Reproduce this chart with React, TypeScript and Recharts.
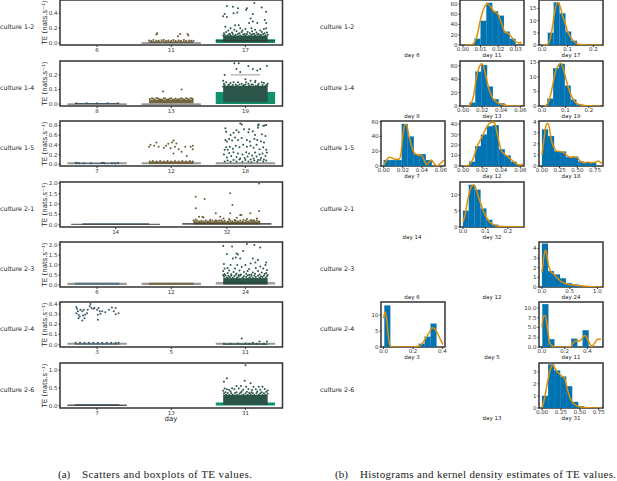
import { ComposedChart, Scatter, Bar, Line, XAxis, YAxis, ReferenceArea, ReferenceLine } from 'recharts'

const BLUE = '#0173b2'
const ORANGE = '#de8f05'
const GREEN = '#10906c'
const FRAME = '#333'
const GREY = '#999'
const DOTS = ['#3b5566', '#6b5a34', '#2a5548']
const BANDS = ['#56707f', '#75653c', '#2a5548']

const cultures = ['culture 1-2', 'culture 1-4', 'culture 1-5', 'culture 2-1', 'culture 2-3', 'culture 2-4', 'culture 2-6']

const days12 = ['6', '11', '17']
const days14 = ['8', '13', '19']
const days15 = ['7', '12', '18']
const days21 = ['14', '32']
const days23 = ['6', '12', '24']
const days24 = ['3', '5', '11']
const days26 = ['7', '13', '31']

// strip points: [jitter, TE]
const d11c12 = [[-.19,.13],[-.2,.115],[.09,.09],[.12,.12],[.22,.12],[.23,.1],[-.3,.035],[-.27,.028],[-.24,.04],[-.2,.03],[-.17,.03],[-.13,.036],[-.1,.04],[-.07,.028],[-.04,.035],[0,.03],[.03,.04],[.06,.028],[.1,.035],[.13,.03],[.17,.04],[.2,.028],[.24,.035],[.27,.03],[.3,.03]]
const d17c12 = [[-.25,.5],[-.17,.49],[-.1,.47],[.01,.45],[.02,.47],[.12,.54],[.22,.48],[-.28,.39],[-.25,.35],[-.16,.4],[-.11,.41],[.1,.39],[.28,.42],[.26,.31],[.28,.27],[-.27,.22],[-.2,.2],[-.14,.24],[-.09,.24],[.05,.27],[.1,.29],[.16,.27],[.28,.2],[0,.19],[-.07,.2],[-.3,.36],[.07,.33],[-.23,.17],[-.15,.18],[-.04,.17],[.08,.2],[.13,.18],[.2,.17],[.25,.19],[-.29,.13],[-.26,.15],[-.21,.12],[-.18,.14],[-.12,.16],[-.08,.13],[-.05,.15],[-.01,.12],[.03,.15],[.06,.13],[.09,.16],[.12,.12],[.15,.14],[.18,.12],[.22,.15],[.26,.13],[.29,.14],
  [-.3,.1],[-.28,.11],[-.25,.095],[-.23,.115],[-.2,.1],[-.17,.12],[-.15,.095],[-.13,.11],[-.1,.12],[-.07,.1],[-.03,.115],[0,.1],[.02,.12],[.05,.095],[.08,.11],[.1,.12],[.13,.1],[.16,.115],[.19,.095],[.21,.11],[.24,.12],[.27,.1],[.3,.11]]
const d8c14 = [[-.28,.006],[-.14,.006],[0,.006],[.14,.006],[.28,.006]]
const d13c14 = [[-.11,.087],[.14,.1],[-.29,.035],[-.26,.04],[-.22,.03],[-.18,.038],[-.14,.032],[-.1,.04],[-.06,.03],[-.02,.036],[.02,.03],[.06,.038],[.1,.032],[.14,.04],[.18,.03],[.22,.036],[.26,.04],[.29,.032],[-.24,.036],[-.2,.042],[-.16,.034],[-.12,.03],[-.08,.038],[-.04,.034],[0,.04],[.04,.032],[.08,.03],[.12,.036],[.16,.034],[.2,.04],[.24,.03],[.28,.038]]
const d19c14 = [[-.15,.28],[-.09,.28],[-.12,.24],[-.07,.22],[.04,.26],[.1,.24],[.16,.23],[.2,.24],[.29,.26],[-.28,.2],[-.3,.16],[0,.17],[.01,.15],[.07,.16],[.135,.16],[-.16,.15],[.22,.15],[-.29,.14],[-.26,.15],[-.23,.13],[-.2,.145],[-.13,.135],[-.1,.15],[-.05,.14],[-.02,.13],[.04,.14],[.1,.135],[.13,.15],[.18,.14],[.25,.145],[.28,.13],[.3,.14],
  [-.3,.12],[-.28,.13],[-.25,.115],[-.22,.135],[-.19,.12],[-.17,.13],[-.14,.115],[-.11,.125],[-.08,.135],[-.06,.115],[-.03,.125],[0,.135],[.02,.115],[.05,.125],[.08,.135],[.11,.115],[.14,.125],[.17,.13],[.2,.115],[.23,.13],[.26,.12],[.29,.125]]
const d7c15 = [[-.29,.025],[-.27,.03],[-.24,.02],[-.18,.02],[-.08,.02],[.06,.025],[.08,.03],[.1,.02],[.2,.025],[.24,.02],[.28,.03]]
const d12c15 = [[-.3,.36],[-.28,.4],[-.23,.38],[-.2,.45],[-.17,.36],[-.1,.34],[-.07,.38],[-.04,.42],[.01,.45],[.03,.49],[.05,.36],[.1,.31],[.14,.26],[.03,.22],[.21,.17],[.26,.36],[.29,.38],[.29,.31],[.19,.36],[-.01,.33],[.07,.43],[-.29,.06],[-.25,.07],[-.2,.06],[-.15,.07],[-.1,.06],[-.05,.07],[0,.06],[.05,.07],[.1,.06],[.15,.07],[.2,.06],[.25,.07],[.29,.06]]
const d18c15 = [[-.27,.74],[-.26,.67],[-.07,.84],[-.05,.82],[.05,.72],[.17,.8],[.17,.75],[.18,.82],[.24,.79],[.26,.8],[.28,.81],[-.2,.6],[-.16,.65],[-.12,.7],[-.09,.66],[-.02,.72],[.04,.66],[.1,.68],[.13,.6],[.22,.62],[.27,.58],[-.27,.5],[-.25,.47],[-.22,.52],[-.18,.49],[-.14,.55],[-.1,.5],[-.05,.54],[.02,.5],[.06,.47],[.12,.52],[.16,.5],[.21,.47],[.25,.45],[-.28,.3],[-.26,.35],[-.24,.3],[-.21,.36],[-.17,.32],[-.13,.38],[-.08,.35],[-.03,.4],[.02,.36],[.07,.38],[.11,.34],[.15,.4],[.19,.31],[.24,.35],[.28,.3],[-.29,.2],[-.25,.14],[-.22,.23],[-.19,.17],[-.16,.25],[-.12,.15],[-.1,.22],[-.07,.12],[-.04,.2],[-.01,.13],[.01,.25],[.03,.16],[.05,.22],[.07,.1],[.09,.18],[.11,.12],[.13,.24],[.15,.16],[.17,.09],[.19,.2],[.21,.13],[.23,.22],[.25,.1],[.27,.17],[.29,.24],[-.28,.06],[-.24,.08],[-.2,.05],[-.16,.09],[-.12,.06],[-.08,.1],[-.04,.05],[0,.09],[.04,.06],[.08,.04],[.12,.08],[.16,.05],[.2,.09],[.24,.06],[.28,.08]]
const d32c21 = [[-.28,1.35],[-.2,1.24],[-.28,.8],[.03,1.52],[.05,.95],[.29,1.99],[.29,.66],[.21,.55],[-.1,.55],[.03,.55],[.12,.47],[.13,.47],[-.25,.38],[-.21,.35],[-.22,.38],[-.06,.38],[-.03,.3],[.09,.34],[.18,.27],[.27,.3],[-.28,.25],[-.15,.24],[-.05,.22],[.02,.27],[.07,.23],[.15,.24],[.24,.22],[-.3,.2],[-.1,.22],[.22,.22],
  [-.29,.16],[-.27,.2],[-.25,.15],[-.23,.19],[-.21,.16],[-.19,.2],[-.17,.15],[-.15,.18],[-.13,.2],[-.11,.15],[-.09,.18],[-.07,.2],[-.04,.16],[-.02,.19],[.01,.15],[.03,.2],[.05,.16],[.08,.19],[.1,.15],[.12,.2],[.14,.16],[.17,.19],[.19,.15],[.21,.2],[.23,.16],[.25,.18],[.27,.2],[.29,.15]]
const d24c23 = [[-.3,1.95],[-.18,1.92],[.02,2.05],[.12,2.0],[.2,1.88],[-.25,1.55],[-.12,1.58],[-.1,1.53],[-.03,1.7],[-.17,1.33],[-.13,1.38],[-.07,1.33],[.1,1.33],[.17,1.25],[.135,1.13],[.28,1.13],[.27,1.0],[-.29,1.05],[-.28,.83],[-.2,1.0],[-.11,1.0],[0,1.0],[.07,1.08],[.2,.92],[-.24,.85],[-.14,.82],[-.05,.9],[.05,.8],[.14,.85],[.24,.82],[.29,.75],[-.3,.7],[-.22,.72],[-.16,.65],[-.08,.72],[-.02,.65],[.03,.7],[.1,.62],[.17,.7],[.22,.62],[.28,.6],[-.28,.55],[-.24,.6],[-.19,.54],[-.12,.58],[-.06,.53],[.01,.56],[.08,.52],[.13,.56],[.19,.53],[.26,.55],[.3,.5],[-.3,.5],[-.09,.5],[.05,.5],
  [-.29,.42],[-.27,.48],[-.25,.38],[-.23,.46],[-.21,.4],[-.19,.47],[-.17,.36],[-.15,.44],[-.13,.5],[-.11,.38],[-.09,.42],[-.07,.48],[-.04,.36],[-.02,.44],[.01,.4],[.03,.48],[.06,.38],[.08,.45],[.1,.36],[.12,.47],[.14,.4],[.17,.46],[.19,.36],[.21,.44],[.23,.4],[.25,.48],[.27,.36],[.29,.44],
  [-.28,.32],[-.24,.35],[-.2,.32],[-.16,.3],[-.12,.33],[-.08,.3],[-.03,.34],[.02,.31],[.05,.35],[.09,.3],[.13,.33],[.16,.31],[.2,.34],[.24,.3],[.28,.33]]
const d3c24 = [[-.28,.37],[-.27,.354],[-.26,.328],[-.25,.295],[-.28,.31],[-.225,.344],[-.2,.328],[-.18,.344],[-.16,.295],[-.2,.238],[-.17,.26],[-.126,.344],[-.1,.377],[-.09,.4],[-.077,.36],[-.036,.36],[0,.344],[.02,.36],[.036,.328],[.01,.295],[.01,.245],[.07,.328],[.11,.32],[.16,.344],[.2,.367],[.25,.36],[.225,.328],[.29,.31],[.25,.3],[.045,.305],[-.05,.354],[-.135,.31],[-.234,.278],[-.19,.288],[-.25,.26],[-.29,.02],[-.23,.018],[-.17,.02],[-.11,.018],[-.05,.02],[.01,.018],[.07,.02],[.13,.018],[.19,.02],[.25,.018],[.29,.02]]
const d11c24 = [[-.05,.06],[-.1,.012],[.1,.02],[.19,.03],[.29,.03],[-.29,.008],[-.2,.008],[0,.012],[.05,.01],[.15,.008],[.25,.01]]
const d31c26 = [[0,1.14],[-.25,.77],[-.29,.67],[-.01,.7],[.07,.63],[-.12,.55],[-.06,.55],[.01,.53],[-.18,.49],[.11,.53],[.18,.53],[.23,.53],[-.28,.48],[-.25,.46],[-.3,.42],[-.22,.44],[-.15,.46],[-.09,.48],[-.03,.45],[.04,.47],[.09,.44],[.14,.46],[.2,.45],[.26,.47],[.3,.43],[-.27,.38],[-.2,.4],[-.12,.38],[-.05,.4],[.02,.39],[.08,.38],[.16,.4],[.22,.38],[.28,.39],
  [-.29,.34],[-.26,.31],[-.24,.36],[-.22,.3],[-.19,.35],[-.17,.31],[-.14,.36],[-.11,.3],[-.08,.34],[-.06,.37],[-.03,.31],[0,.35],[.03,.3],[.05,.36],[.07,.32],[.1,.35],[.12,.3],[.15,.36],[.18,.31],[.2,.35],[.23,.3],[.25,.35],[.27,.31],[.3,.34]]

// boxes: [category, low, high]
const boxes12 = [[2, 0, .05]]
const boxes14 = [[2, 0, .083]]
const boxes15 = [[0, 0, .04], [1, 0, .04], [2, 0, .04]]
const boxes21 = [[1, 0, .08]]
const boxes23 = [[0, 0, .11], [1, 0, .11], [2, 0, .03]]
const boxes24 = [[0, 0, .018], [2, 0, .018]]
const boxes26 = [[0, 0, .03], [2, .005, .09]]

// dense strip cores: [category, low, high]
const core12 = [[1, .002, .025], [2, .006, .1]]
const core14 = [[0, 0, .008], [1, .005, .03], [2, .012, .125]]
const core15 = [[0, .005, .025], [1, .005, .055]]
const core21 = [[0, 0, .07], [1, .01, .16]]
const core23 = [[0, .01, .11], [1, .01, .11], [2, .03, .34]]
const core24 = [[0, 0, .015], [2, 0, .012]]
const core26 = [[0, 0, .045], [2, .02, .31]]

// median lines: [category, TE]
const medians12 = [[1, 0], [2, .03]]
const medians14 = [[0, 0], [1, 0]]
const medians15: number[][] = []
const medians21 = [[0, .02], [1, .04]]
const medians23 = [[2, .1]]
const medians24: number[][] = []
const medians26 = [[0, .01]]

// histograms: bin centres, heights, then the density curve
const h11x = [.0083, .0117, .015, .0183, .0217, .025, .0283]
const h11y = [12, 47, 82, 66, 57, 26, 12]
const k11 = [[.001,0],[.004,0],[.006,3],[.008,18],[.01,50],[.012,72],[.0135,80],[.015,78],[.0175,66],[.02,60],[.022,42],[.024,25],[.026,22],[.028,14],[.03,6],[.032,4],[.0335,5]]
const h17x = [.034, .057, .08, .102, .125]
const h17y = [5, 17.5, 13, 5.5, 1.7]
const k17 = [[0,0],[.02,.2],[.03,2],[.04,7],[.05,14],[.06,17.5],[.07,16],[.08,12],[.09,9],[.1,5.5],[.11,3.5],[.12,2],[.14,.4],[.16,.1],[.2,0],[.23,0]]
const h13x = [.0098, .0159, .0221, .0282, .0343, .0405, .0466]
const h13y = [5, 51, 61, 29, 10, 4, 1]
const k13 = [[.005,0],[.008,3],[.011,15],[.014,42],[.017,58],[.019,63],[.021,61],[.023,50],[.025,38],[.027,26],[.029,18],[.032,10],[.036,5],[.04,3],[.045,1],[.05,0],[.06,.3]]
const h19x = [.035, .06, .085, .11, .134, .159]
const h19y = [2.5, 13, 14.5, 7, 2.2, .6]
const k19 = [[.01,0],[.02,.4],[.03,2],[.04,5],[.05,9],[.06,12.5],[.07,14],[.08,14.7],[.09,13],[.1,10],[.11,7],[.12,4.5],[.13,2.7],[.14,1.5],[.16,.5],[.18,.2],[.2,.1],[.25,0]]
const h7x = [.0032, .0095, .0158, .0221, .0284, .0347, .041, .0473]
const h7y = [8, 8, 8, 57, 40, 16, 16, 8]
const k7 = [[0,1],[.003,8],[.006,12],[.009,11],[.012,9],[.016,9],[.018,16],[.02,40],[.022,56],[.024,56],[.026,44],[.029,28],[.032,18],[.036,15],[.04,14],[.043,6],[.045,2],[.048,6],[.05,8],[.053,3],[.056,0],[.059,3],[.063,8]]
const h12x = [.0094, .0157, .0219, .0282, .0344, .0407, .0469, .0532]
const h12y = [4, 19, 30, 38, 39, 16, 10, 4]
const k12 = [[0,0],[.005,.5],[.008,3],[.011,8],[.014,17],[.017,23],[.02,28],[.023,34],[.026,39],[.029,41.5],[.032,42],[.034,39],[.036,30],[.038,22],[.04,15],[.044,11],[.048,8],[.052,5],[.056,2],[.06,1],[.063,2]]
const h18x = [.043, .128, .213, .298, .383, .468, .553, .638, .723]
const h18y = [3.3, 2.7, 1.35, 1.3, .8, .85, .4, .35, .3]
const k18 = [[0,1],[.03,2.5],[.06,3.7],[.08,3.85],[.1,3.6],[.13,2.4],[.17,1.7],[.2,1.35],[.25,1.3],[.3,1.25],[.35,.95],[.4,.8],[.45,.82],[.5,.75],[.55,.4],[.6,.3],[.65,.35],[.7,.3],[.75,.35],[.8,.45],[.83,.3],[.85,.25]]
const h32x = [.013, .039, .065, .091, .117, .143]
const h32y = [5, 13, 11.5, 5.7, 2.2, .7]
const k32 = [[0,1.5],[.01,4],[.02,8],[.03,11],[.04,12.7],[.05,13],[.06,11.5],[.07,9],[.08,7],[.09,5],[.1,3.5],[.12,1.5],[.14,.6],[.16,.2],[.2,.05],[.27,0]]
const h24x = [.054, .162, .27, .378, .486, .594, .702, .81, .918]
const h24y = [4.5, 1.65, 1.3, .9, .4, .25, .1, .05, .02]
const k24 = [[0,1.5],[.03,3],[.06,3.85],[.09,3.2],[.12,2.2],[.16,1.6],[.2,1.4],[.25,1.1],[.3,.8],[.35,.55],[.4,.4],[.5,.25],[.6,.18],[.7,.12],[.8,.07],[.9,.03],[1,.01],[1.08,0]]
const h3x = [.025, .26, .3, .34]
const h3y = [13, 1, 3.2, 7.3]
const k3 = [[0,9],[.01,11],[.02,9],[.03,4],[.045,.3],[.06,0],[.2,0],[.24,.3],[.27,1.5],[.29,3],[.31,4.5],[.33,6],[.345,5.8],[.37,4],[.39,2],[.405,.8]]
const h11bx = [.03, .083, .285, .385]
const h11by = [11, 2, 2.1, 4.3]
const k11b = [[0,5],[.015,8],[.03,8],[.05,4.5],[.07,1],[.09,.3],[.11,0],[.25,0],[.28,1.2],[.3,1.7],[.33,1.5],[.38,3],[.41,1.5],[.44,.2],[.46,.8],[.49,2],[.52,2]]
const h31x = [.04, .12, .199, .279, .358, .438, .517]
const h31y = [1, 3.6, 3.1, 2.6, 1.8, .5, .15]
const k31 = [[0,.02],[.03,.7],[.06,1.7],[.09,2.7],[.12,3.4],[.14,3.55],[.17,3.3],[.2,3],[.25,2.7],[.3,2.4],[.33,1.7],[.36,1],[.4,.5],[.45,.2],[.5,.1],[.6,.02],[.78,0]]

const rowTop = [0, 61, 121, 182, 242, 302, 363]
const rowH = 45
const colX = [381, 460, 539]
const histW = 64
const tickStyle = { fontSize: 5.5, fill: '#333', fontFamily: 'DejaVu Sans' }
const toXY = (pts: number[][]) => pts.map(p => ({ x: p[0], y: p[1] }))

function dot(color: string) {
  return (p: any) => <circle cx={p.cx} cy={p.cy} r={1} fill={color} />
}

function StripPanel({ row, days, domain, ticks, boxes, core, medians, points, caps, boxColor }: any) {
  const n = days.length
  const T = 2, L = 58, R = 4, B = 14
  const W = 222.5
  return (
    <div style={{ position: 'absolute', left: 59.5 - L, top: rowTop[row] - T }}>
      <ComposedChart width={W + L + R} height={rowH + T + B} margin={{ top: T, right: R, left: 0, bottom: 0 }}>
        <XAxis type="number" dataKey="x" domain={[-0.5, n - 0.5]} ticks={days.map((_: string, i: number) => i)} tickFormatter={(v: number) => days[v]}
          axisLine={false} tick={tickStyle} tickSize={2} tickMargin={1} tickLine={{ stroke: FRAME }} height={B} interval={0} allowDataOverflow />
        <YAxis type="number" dataKey="y" domain={domain} ticks={ticks} tickFormatter={(v: number) => v.toFixed(1)}
          axisLine={false} tick={tickStyle} tickSize={1.5} tickMargin={1} tickLine={{ stroke: FRAME }} width={L} interval={0} allowDataOverflow
          label={{ value: 'TE (nats.s⁻¹)', angle: -90, position: 'insideLeft', offset: 43, fontSize: 7, fill: '#222', fontFamily: 'DejaVu Sans', style: { textAnchor: 'middle' } }} />
        {boxes.map((b: number[], i: number) => (
          <ReferenceArea key={'b' + i} x1={b[0] - 0.4} x2={b[0] + 0.4} y1={b[1]} y2={b[2]} fill={boxColor[b[0]]} fillOpacity={1} stroke="none" />
        ))}
        {core.map((b: number[], i: number) => (
          <ReferenceArea key={'c' + i} x1={b[0] - 0.3} x2={b[0] + 0.3} y1={b[1]} y2={b[2]} fill={BANDS[b[0]]} fillOpacity={1} stroke="none" />
        ))}
        {points.map((s: any, i: number) => (
          <Scatter key={'s' + i} data={toXY(s.pts.map((p: number[]) => [p[0] + s.cat, p[1]]))} shape={dot(DOTS[s.cat])} isAnimationActive={false} />
        ))}
        {medians.map((m: number[], i: number) => (
          <ReferenceLine key={'m' + i} segment={[{ x: m[0] - 0.4, y: m[1] }, { x: m[0] + 0.4, y: m[1] }]} stroke="#333" strokeWidth={0.9} />
        ))}
        {caps.map((m: number[], i: number) => (
          <ReferenceLine key={'p' + i} segment={[{ x: m[0] - 0.2, y: m[1] }, { x: m[0] + 0.2, y: m[1] }]} stroke={GREY} strokeWidth={1} />
        ))}
        <ReferenceArea x1={-0.5} x2={n - 0.5} y1={domain[0]} y2={domain[1]} fill="none" stroke={FRAME} strokeWidth={1.5} ifOverflow="visible" />
      </ComposedChart>
    </div>
  )
}

function HistPanel({ row, col, bx, by, kde, xDomain, yMax, xTicks, yTicks, xDigits, yDigits, binW }: any) {
  const T = 2, L = 22, R = 3, B = 11
  const data = bx.map((x: number, i: number) => ({ x, h: by[i] }))
  const barPx = (binW / (xDomain[1] - xDomain[0])) * histW
  return (
    <div style={{ position: 'absolute', left: colX[col] - L, top: rowTop[row] - T }}>
      <ComposedChart width={histW + L + R} height={rowH + T + B} data={data} margin={{ top: T, right: R, left: 0, bottom: 0 }} barGap={0} barCategoryGap={0}>
        <XAxis type="number" dataKey="x" domain={xDomain} ticks={xTicks} tickFormatter={(v: number) => v.toFixed(xDigits)}
          axisLine={false} tick={tickStyle} tickSize={2} tickMargin={0.5} tickLine={{ stroke: FRAME }} height={B} interval={0} allowDataOverflow />
        <YAxis type="number" domain={[0, yMax]} ticks={yTicks} tickFormatter={(v: number) => v.toFixed(yDigits)}
          axisLine={false} tick={tickStyle} tickSize={1.5} tickMargin={1} tickLine={{ stroke: FRAME }} width={L} interval={0} allowDataOverflow />
        <Bar dataKey="h" isAnimationActive={false}
          shape={(p: any) => <rect x={p.x + p.width / 2 - barPx / 2} y={p.y} width={barPx} height={p.height} fill={BLUE} stroke="#1f83bb" strokeWidth={0.2} />} />
        <Line data={toXY(kde)} dataKey="y" type="monotone" stroke={ORANGE} strokeWidth={1.5} dot={false} isAnimationActive={false} />
        <ReferenceArea x1={xDomain[0]} x2={xDomain[1]} y1={0} y2={yMax} fill="none" stroke={FRAME} strokeWidth={1.5} ifOverflow="visible" />
      </ComposedChart>
    </div>
  )
}

const noCaps: number[][] = []
const blueGrey = [GREY, GREY, GREY]
const greenBox = [GREY, GREY, GREEN]

export default function App() {
  return (
    <div style={{ position: 'absolute', left: 0, top: 0, width: 617, height: 481, overflow: 'hidden', background: '#fff' }}>
      <StripPanel row={0} days={days12} domain={[-0.027, 0.58]} ticks={[0, .2, .4]} boxes={boxes12} core={core12} medians={medians12} caps={noCaps} boxColor={greenBox}
        points={[{ cat: 1, pts: d11c12 }, { cat: 2, pts: d17c12 }]} />
      <StripPanel row={1} days={days14} domain={[-0.013, 0.295]} ticks={[0, .1, .2]} boxes={boxes14} core={core14} medians={medians14} caps={[[2, .2]]} boxColor={greenBox}
        points={[{ cat: 0, pts: d8c14 }, { cat: 1, pts: d13c14 }, { cat: 2, pts: d19c14 }]} />
      <StripPanel row={2} days={days15} domain={[-0.035, 0.89]} ticks={[0, .2, .4, .6, .8]} boxes={boxes15} core={core15} medians={medians15} caps={noCaps} boxColor={blueGrey}
        points={[{ cat: 0, pts: d7c15 }, { cat: 1, pts: d12c15 }, { cat: 2, pts: d18c15 }]} />
      <StripPanel row={3} days={days21} domain={[-0.11, 2.06]} ticks={[0, .5, 1, 1.5, 2]} boxes={boxes21} core={core21} medians={medians21} caps={noCaps} boxColor={blueGrey}
        points={[{ cat: 1, pts: d32c21 }]} />
      <StripPanel row={4} days={days23} domain={[-0.1, 2.15]} ticks={[0, .5, 1, 1.5, 2]} boxes={boxes23} core={core23} medians={medians23} caps={noCaps} boxColor={blueGrey}
        points={[{ cat: 2, pts: d24c23 }]} />
      <StripPanel row={5} days={days24} domain={[-0.023, 0.42]} ticks={[0, .1, .2, .3, .4]} boxes={boxes24} core={core24} medians={medians24} caps={noCaps} boxColor={blueGrey}
        points={[{ cat: 0, pts: d3c24 }, { cat: 2, pts: d11c24 }]} />
      <StripPanel row={6} days={days26} domain={[-0.065, 1.2]} ticks={[0, .5, 1]} boxes={boxes26} core={core26} medians={medians26} caps={noCaps} boxColor={greenBox}
        points={[{ cat: 2, pts: d31c26 }]} />

      <HistPanel row={0} col={1} bx={h11x} by={h11y} kde={k11} binW={.00333} xDomain={[-.0017, .0348]} yMax={87.7} xTicks={[0, .01, .02, .03]} yTicks={[0, 20, 40, 60, 80]} xDigits={2} yDigits={0} />
      <HistPanel row={0} col={2} bx={h17x} by={h17y} kde={k17} binW={.0227} xDomain={[-.012, .238]} yMax={18.5} xTicks={[0, .1, .2]} yTicks={[0, 5, 10, 15]} xDigits={1} yDigits={0} />
      <HistPanel row={1} col={1} bx={h13x} by={h13y} kde={k13} binW={.00614} xDomain={[-.0032, .0639]} yMax={67} xTicks={[0, .02, .04, .06]} yTicks={[0, 20, 40, 60]} xDigits={2} yDigits={0} />
      <HistPanel row={1} col={2} bx={h19x} by={h19y} kde={k19} binW={.0248} xDomain={[-.0128, .26]} yMax={15.5} xTicks={[0, .1, .2]} yTicks={[0, 5, 10, 15]} xDigits={1} yDigits={0} />
      <HistPanel row={2} col={0} bx={h7x} by={h7y} kde={k7} binW={.0063} xDomain={[-.0028, .0642]} yMax={61} xTicks={[0, .02, .04, .06]} yTicks={[0, 20, 40, 60]} xDigits={2} yDigits={0} />
      <HistPanel row={2} col={1} bx={h12x} by={h12y} kde={k12} binW={.00625} xDomain={[-.0032, .0639]} yMax={43} xTicks={[0, .02, .04, .06]} yTicks={[0, 10, 20, 30, 40]} xDigits={2} yDigits={0} />
      <HistPanel row={2} col={2} bx={h18x} by={h18y} kde={k18} binW={.085} xDomain={[-.042, .863]} yMax={4.06} xTicks={[0, .25, .5, .75]} yTicks={[0, 1, 2, 3, 4]} xDigits={2} yDigits={0} />
      <HistPanel row={3} col={1} bx={h32x} by={h32y} kde={k32} binW={.026} xDomain={[-.0134, .2716]} yMax={13.9} xTicks={[0, .1, .2]} yTicks={[0, 5, 10]} xDigits={1} yDigits={0} />
      <HistPanel row={4} col={2} bx={h24x} by={h24y} kde={k24} binW={.108} xDomain={[-.054, 1.1]} yMax={4.67} xTicks={[0, .5, 1]} yTicks={[0, 1, 2, 3, 4]} xDigits={1} yDigits={0} />
      <HistPanel row={5} col={0} bx={h3x} by={h3y} kde={k3} binW={.04} xDomain={[-.018, .418]} yMax={14.1} xTicks={[0, .2, .4]} yTicks={[0, 5, 10]} xDigits={1} yDigits={0} />
      <HistPanel row={5} col={2} bx={h11bx} by={h11by} kde={k11b} binW={.053} xDomain={[-.026, .538]} yMax={11.55} xTicks={[0, .2, .4]} yTicks={[0, 2.5, 5, 7.5, 10]} xDigits={1} yDigits={1} />
      <HistPanel row={6} col={2} bx={h31x} by={h31y} kde={k31} binW={.0795} xDomain={[-.04, .806]} yMax={3.72} xTicks={[0, .25, .5, .75]} yTicks={[0, 1, 2, 3]} xDigits={2} yDigits={0} />

      <svg width={617} height={481} style={{ position: 'absolute', left: 0, top: 0, pointerEvents: 'none' }}>
        {cultures.map((c, i) => (
          <g key={c} fontFamily="DejaVu Sans" fontSize={6.3} fill="#222">
            <text x={0} y={rowTop[i] + 29}>{c}</text>
            <text x={320} y={rowTop[i] + 29}>{c}</text>
          </g>
        ))}
        {[days12, days14, days15, ['14', '32'], days23, days24, ['', '13', '31']].map((ds, r) => (
          ds.map((d, c) => d === '' ? null : (
            <text key={r + '-' + c} x={[412, 492, 571][c]} y={rowTop[r] + 57} textAnchor="middle" fontFamily="DejaVu Sans" fontSize={5.5} fill="#222">{'day ' + d}</text>
          ))
        ))}
        <text x={171} y={421} textAnchor="middle" fontFamily="DejaVu Sans" fontSize={7} fill="#222">day</text>
        <g fontFamily="Liberation Serif" fontSize={11} fill="#222">
          <text x={58} y={478}>(a)</text>
          <text x={82} y={478} textLength={170}>Scatters and boxplots of TE values.</text>
          <text x={335} y={478}>(b)</text>
          <text x={360} y={478} textLength={256}>Histograms and kernel density estimates of TE values.</text>
        </g>
      </svg>
    </div>
  )
}
